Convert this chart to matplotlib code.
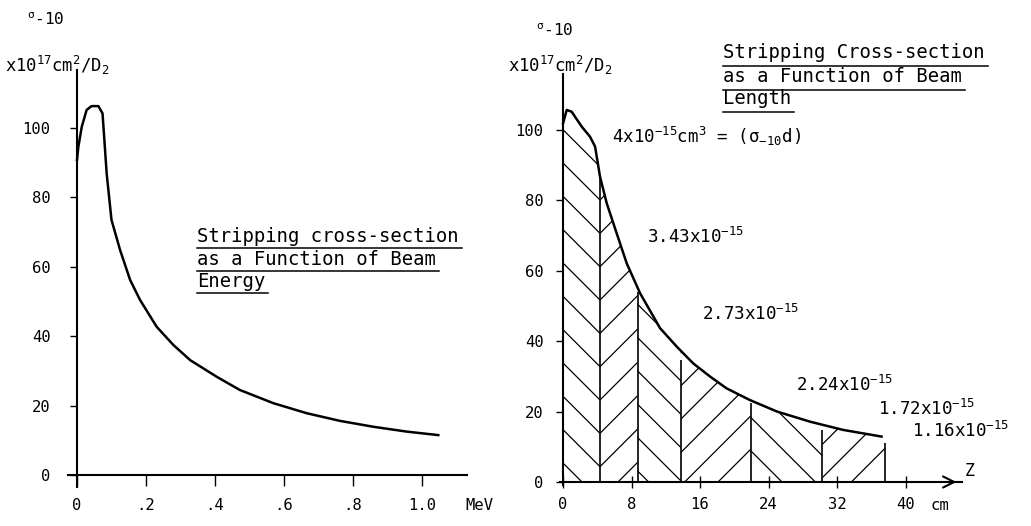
import numpy as np
import matplotlib
matplotlib.use("Agg")
import matplotlib.pyplot as plt
from matplotlib.lines import Line2D
from matplotlib.transforms import IdentityTransform

# left: stripping cross-section (x10^-17 cm^2/D2) vs beam energy (MeV)
energy = [0.0, 0.004, 0.014, 0.028, 0.042, 0.062, 0.074, 0.078, 0.086, 0.1,
          0.125, 0.154, 0.183, 0.231, 0.279, 0.328, 0.405, 0.472, 0.569,
          0.666, 0.762, 0.859, 0.956, 1.047]
sigma_e = [90.8, 94.6, 100.4, 105.2, 106.3, 106.3, 104.2, 98.5, 86.9, 73.5,
           64.8, 56.2, 50.4, 42.7, 37.5, 33.1, 28.3, 24.5, 20.7,
           17.8, 15.6, 13.9, 12.5, 11.5]
e_ticks = [0, 0.2, 0.4, 0.6, 0.8, 1.0]
e_labels = ["0", ".2", ".4", ".6", ".8", "1.0"]

# right: cross-section vs beam length z (cm)
length = [0, 0.43, 1.0, 2.2, 3.15, 3.74, 4.32, 5.1, 6.27, 7.44, 9.0, 11.33,
          13.3, 15.2, 17.2, 19.1, 21.8, 25.0, 28.9, 32.7, 37.2]
sigma_z = [101.9, 105.7, 105.2, 100.9, 98.1, 95.3, 86.7, 79.2, 70.6, 62.1,
           53.6, 43.7, 38.4, 33.7, 29.9, 26.6, 23.3, 20.0, 17.1, 14.8, 12.9]
cuts = [0, 4.35, 8.7, 13.75, 21.9, 30.3, 37.6]
cut_tops = [101.9, 87, 54, 34.7, 22.4, 14.8, 11]
seg_labels = [r"4x10$^{-15}$cm$^3$ = ($\sigma_{-10}$d)", r"3.43x10$^{-15}$",
              r"2.73x10$^{-15}$", r"2.24x10$^{-15}$", r"1.72x10$^{-15}$",
              r"1.16x10$^{-15}$"]
z_ticks = [0, 8, 16, 24, 32, 40]
sig_ticks = [0, 20, 40, 60, 80, 100]

plt.rcParams['font.family'] = ['DejaVu Sans Mono', 'DejaVu Sans']
plt.rcParams['mathtext.fontset'] = 'custom'
plt.rcParams['mathtext.rm'] = 'DejaVu Sans Mono'
plt.rcParams['mathtext.it'] = 'DejaVu Sans Mono'
plt.rcParams['mathtext.default'] = 'regular'
plt.rcParams['hatch.linewidth'] = 0.45

W, H = 1031, 526
fig = plt.figure(figsize=(W / 200, H / 200), dpi=200)
ax1 = fig.add_axes([0.0663, 0.0741, 0.3866, 0.7928])
ax2 = fig.add_axes([0.5428, 0.077, 0.3903, 0.7829])


def style(ax):
    for s in ("top", "right"):
        ax.spines[s].set_visible(False)
    for s in ("left", "bottom"):
        ax.spines[s].set_position(("data", 0))
        ax.spines[s].set_linewidth(0.75)
    ax.patch.set_visible(False)
    ax.tick_params(labelsize=5.6, width=0.5)


def px(x, y):
    return x / W, 1 - y / H


# ---- left panel
ax1.plot(energy, sigma_e, color="black", lw=0.9)
ax1.set_xlim(-0.025, 1.13)
ax1.set_ylim(-3.46, 116.7)
style(ax1)
ax1.set_xticks(e_ticks, e_labels)
ax1.set_yticks(sig_ticks)
ax1.tick_params(axis="y", length=2.5, pad=7)
ax1.tick_params(axis="x", length=4, pad=4.3)
ax1.text(1.125, -6.6, "MeV", fontsize=5.6, va="top", ha="left")

fig.text(*px(27, 25), r"$^{\sigma}$-10", fontsize=5.8, va="baseline")
fig.text(*px(5, 72), r"x10$^{17}$cm$^2$/D$_2$", fontsize=6.2, va="baseline")
fig.text(*px(536, 36), r"$^{\sigma}$-10", fontsize=5.8, va="baseline")
fig.text(*px(508, 72), r"x10$^{17}$cm$^2$/D$_2$", fontsize=6.2, va="baseline")

title1 = []
for i, s in enumerate(["Stripping cross-section", "as a Function of Beam", "Energy"]):
    title1.append(ax1.text(0.348, [67.1, 60.5, 54.2][i], s, fontsize=6.8,
                           va="baseline", ha="left"))

# ---- right panel
ax2.plot(length, sigma_z, color="black", lw=0.9)
hatches = ["\\\\", "//", "\\\\", "//", "\\\\", "//"]
zs = np.array(length)
for k in range(len(cuts) - 1):
    a, b = cuts[k], cuts[k + 1]
    inner = zs[(zs > a) & (zs < b)]
    xs = np.concatenate([[a], inner, [b]])
    ys = np.interp(xs, length, sigma_z)
    ax2.fill_between(xs, 0, ys, facecolor="none", edgecolor="black",
                     linewidth=0, hatch=hatches[k])
ax2.vlines(cuts[1:], 0, cut_tops[1:], color="black", lw=0.6)
ax2.set_xlim(-0.4, 46.6)
ax2.set_ylim(-1, 116)
style(ax2)
ax2.set_xticks(z_ticks)
ax2.set_yticks(sig_ticks)
ax2.tick_params(axis="y", length=2.5, pad=4.5)
ax2.tick_params(axis="x", length=4, direction="inout", pad=3.5)
ax2.annotate("", xy=(1.0, 0), xytext=(0.95, 0),
             xycoords=("axes fraction", "data"),
             arrowprops=dict(arrowstyle="->", lw=0.75, color="black"))
ax2.text(1.008, 0.5, "Z", transform=ax2.get_yaxis_transform(),
         fontsize=6, va="bottom", ha="left")
ax2.text(42.9, -4.6, "cm", fontsize=5.6, va="top", ha="left")

label_pos = [(5.7, 96.3), (9.8, 67.9), (16.2, 46), (27.2, 25.8), (36.8, 19),
             (40.7, 12.7)]
for s, (x, y) in zip(seg_labels, label_pos):
    ax2.text(x, y, s, fontsize=6.3, va="baseline", ha="left")

title2 = []
for i, s in enumerate(["Stripping Cross-section", "as a Function of Beam", "Length"]):
    title2.append(ax2.text(18.7, [120.5, 113.6, 107.4][i], s, fontsize=6.8,
                           va="baseline", ha="left"))

# underlines under the two captions
fig.canvas.draw()
r = fig.canvas.get_renderer()
for ax, texts, off in ((ax1, title1, 6), (ax2, title2, 8)):
    for t in texts:
        bb = t.get_window_extent(r)
        yb = ax.transData.transform((0, t.get_position()[1]))[1] - off
        fig.add_artist(Line2D([bb.x0, bb.x1 + 3], [yb, yb], lw=0.55,
                              color="black", transform=IdentityTransform()))

fig.savefig("out.png", dpi=200)
